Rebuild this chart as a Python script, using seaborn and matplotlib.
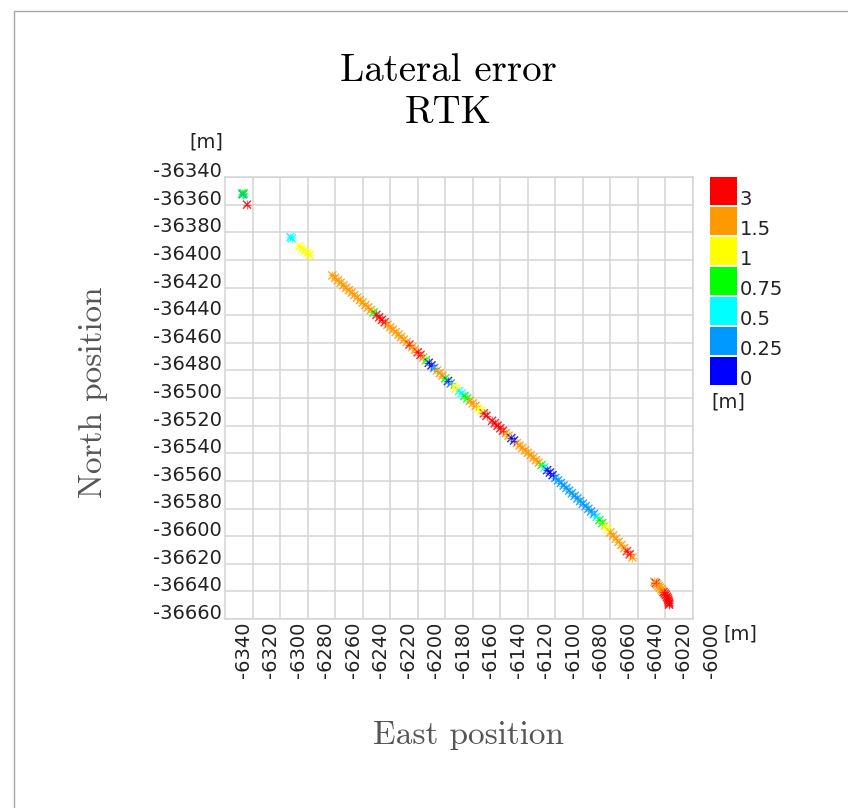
import numpy as np
import pandas as pd
import matplotlib
matplotlib.use("Agg")
import matplotlib.pyplot as plt
from matplotlib.lines import Line2D
import seaborn as sns

# Lateral error classes: lower bounds [m], labels and colours
class_edges = [0.25, 0.5, 0.75, 1.0, 1.5, 3.0]
class_labels = ["0", "0.25", "0.5", "0.75", "1", "1.5", "3"]
class_colors = ["#0000ff", "#0099ff", "#00ffff", "#00ff00", "#ffff00", "#ff9900", "#ff0000"]

east_ticks = list(range(-6340, -5999, 20))
north_ticks = list(range(-36660, -36339, 20))

# Isolated fixes at the start of the run
east_start = [-6347.6, -6347.0, -6346.4, -6344.0]
north_start = [-36352.0, -36352.6, -36351.8, -36360.0]
err_start = [0.85, 0.35, 0.80, 3.6]

east_gap = [-6312.5, -6311.5, -6306.0, -6304.0, -6302.0, -6300.0, -6298.5]
north_gap = [-36383.5, -36384.5, -36390.0, -36392.0, -36393.5, -36395.0, -36396.5]
err_gap = [0.60, 0.55, 1.20, 1.30, 1.10, 1.25, 1.20]

# Main straight section
east_main = [
    -6282, -6280, -6278, -6276, -6274, -6272, -6270, -6268, -6266, -6264,
    -6262, -6260, -6258, -6256, -6254, -6252, -6250, -6248, -6246, -6244,
    -6242, -6240, -6238, -6236, -6234, -6232, -6230, -6228, -6226, -6224,
    -6222, -6220, -6218, -6216, -6214, -6212, -6210, -6208, -6206, -6204,
    -6202, -6200, -6198, -6196, -6194, -6192, -6190, -6188, -6186, -6184,
    -6182, -6180, -6178, -6176, -6174, -6172, -6170, -6166, -6164, -6162,
    -6160, -6158, -6156, -6154, -6152, -6150, -6148, -6146, -6144, -6142,
    -6140, -6138, -6136, -6134, -6132, -6130, -6128, -6126, -6124, -6122,
    -6120, -6118, -6116, -6114, -6112, -6110, -6108, -6106, -6104, -6102,
    -6100, -6098, -6096, -6094, -6092, -6090, -6088, -6086, -6084, -6082,
    -6080, -6078, -6076, -6074, -6072, -6070, -6068, -6066, -6064,
]
north_main = [
    -36411.3, -36413.0, -36414.8, -36416.6, -36418.4, -36420.2, -36421.9, -36423.7, -36425.5, -36427.3,
    -36429.1, -36430.9, -36432.7, -36434.5, -36436.3, -36438.0, -36439.8, -36441.6, -36443.4, -36445.2,
    -36447.0, -36448.8, -36450.5, -36452.3, -36454.1, -36455.9, -36457.7, -36459.5, -36461.3, -36463.1,
    -36465.0, -36466.9, -36468.8, -36470.7, -36472.6, -36474.5, -36476.4, -36478.2, -36480.1, -36482.0,
    -36483.9, -36485.8, -36487.7, -36489.5, -36491.3, -36493.1, -36494.9, -36496.7, -36498.5, -36500.3,
    -36502.1, -36503.9, -36505.7, -36507.5, -36509.3, -36511.1, -36512.9, -36516.5, -36518.3, -36520.1,
    -36521.9, -36523.7, -36525.5, -36527.3, -36529.0, -36530.8, -36532.6, -36534.4, -36536.1, -36537.9,
    -36539.7, -36541.4, -36543.2, -36545.0, -36546.8, -36548.5, -36550.3, -36552.2, -36554.0, -36555.9,
    -36557.8, -36559.6, -36561.5, -36563.4, -36565.2, -36567.1, -36569.0, -36570.9, -36572.7, -36574.6,
    -36576.5, -36578.3, -36580.2, -36582.1, -36584.0, -36586.1, -36588.3, -36590.6, -36592.8, -36595.1,
    -36597.4, -36599.6, -36601.9, -36604.2, -36606.4, -36608.7, -36610.9, -36613.2, -36615.5,
]
err_main = [
    2.1, 2.0, 2.2, 1.9, 2.0, 2.1, 1.8, 2.0, 2.2, 1.9,
    2.0, 1.7, 2.1, 1.9, 2.0, 0.85, 3.4, 3.6, 3.5, 3.3,
    2.4, 2.0, 1.9, 2.1, 2.0, 1.8, 2.2, 2.5, 3.4, 2.1,
    1.9, 3.5, 3.2, 2.3, 0.80, 0.10, 0.15, 0.35, 2.0, 1.9,
    2.1, 0.85, 0.12, 0.40, 1.2, 1.3, 0.60, 0.65, 0.85, 0.90,
    1.9, 2.0, 2.2, 1.2, 1.3, 3.4, 3.6, 3.5, 3.8, 3.4,
    3.5, 3.3, 2.2, 2.0, 0.15, 0.10, 2.1, 1.9, 2.0, 2.2,
    1.8, 2.0, 2.1, 1.9, 2.0, 0.80, 0.60, 0.10, 0.08, 0.15,
    0.30, 0.35, 0.38, 0.40, 0.33, 0.36, 0.42, 0.37, 0.35, 0.40,
    0.38, 0.43, 0.45, 0.46, 0.48, 0.60, 0.85, 0.90, 1.1, 1.3,
    1.8, 2.0, 2.1, 1.9, 2.2, 2.4, 3.3, 3.4, 2.2,
]

# Final curve towards the end of the run
east_end = [-6048.0, -6047.0, -6046.0, -6045.0, -6044.0, -6043.0, -6042.2,
            -6041.4, -6040.6, -6039.8, -6039.0, -6038.4, -6038.0, -6037.7, -6037.5, -6037.4]
north_end = [-36633.0, -36634.0, -36635.0, -36636.2, -36637.3, -36638.5, -36639.5,
             -36640.5, -36641.6, -36642.7, -36643.9, -36645.0, -36646.2, -36647.4, -36648.6, -36649.6]
err_end = [2.6, 3.2, 2.2, 2.0, 2.4, 2.1, 2.8,
           3.4, 3.6, 3.8, 3.5, 3.7, 3.9, 3.6, 3.5, 3.8]

df = pd.DataFrame({
    "east": east_start + east_gap + east_main + east_end,
    "north": north_start + north_gap + north_main + north_end,
    "err": err_start + err_gap + err_main + err_end,
})
df["cls"] = [class_labels[i] for i in np.digitize(df["err"], class_edges)]

sns.set_style("white")
plt.rcParams["font.family"] = ["DejaVu Sans"]
serif = ["cmr10", "DejaVu Serif"]
tick_color = "#222222"
grid_color = "#d4d4d4"

W, H = 848, 808
fig = plt.figure(figsize=(W / 100, H / 100), dpi=100)
fig.patch.set_facecolor("white")

ax = fig.add_axes([225 / W, 1 - 619 / H, 468 / W, 442 / H])
palette = dict(zip(class_labels, class_colors))
# each fix drawn as a small cross plus a plus sign, giving a star-like mark
sns.scatterplot(data=df, x="east", y="north", hue="cls", palette=palette,
                marker="x", s=34, linewidth=1.0, alpha=0.85, legend=False, ax=ax, zorder=3)
sns.scatterplot(data=df, x="east", y="north", hue="cls", palette=palette,
                marker="+", s=40, linewidth=0.9, alpha=0.6, legend=False, ax=ax, zorder=3)

ax.set_xlim(-6360, -6020)
ax.set_ylim(-36660, -36340)
ax.set_xticks(east_ticks[:-1])
ax.set_yticks(north_ticks)
ax.set_xticklabels([str(v) for v in east_ticks[:-1]])
ax.set_yticklabels([str(v) for v in north_ticks])
ax.set_xlabel("")
ax.set_ylabel("")
ax.grid(True, color=grid_color, linewidth=1.1)
ax.set_axisbelow(True)
for sp in ax.spines.values():
    sp.set_color(grid_color)
    sp.set_linewidth(1.1)
ax.tick_params(length=0, labelsize=14, labelcolor=tick_color, pad=2)
for lbl in ax.get_xticklabels():
    lbl.set_rotation(90)
    lbl.set_ha("right")
    lbl.set_va("top")
for lbl in ax.get_yticklabels():
    lbl.set_va("baseline")

# last east label sits beyond the plotted range
ax.annotate(str(east_ticks[-1]), xy=(east_ticks[-1], 0),
            xycoords=("data", "axes fraction"), xytext=(0, -2),
            textcoords="offset points", rotation=90, ha="right", va="top",
            fontsize=14, color=tick_color, annotation_clip=False)

# units
fig.text(223 / W, 1 - 142 / H, "[m]", ha="right", va="center", fontsize=14, color=tick_color)
fig.text(723 / W, 1 - 634 / H, "[m]", ha="left", va="center", fontsize=14, color=tick_color)

# discrete colour scale
cax = fig.add_axes([710 / W, 1 - 385 / H, 27 / W, 208 / H])
cax.bar(x=[0] * len(class_colors), height=28 / 30, bottom=list(range(len(class_colors))),
        width=1, align="edge", color=class_colors, linewidth=0)
cax.set_xlim(0, 1)
cax.set_ylim(0, 6 + 28 / 30)
cax.axis("off")
for i, lab in enumerate(class_labels):
    cax.text(1.11, i, lab, ha="left", va="baseline", fontsize=14, color=tick_color)
fig.text(711 / W, 1 - 402 / H, "[m]", ha="left", va="center", fontsize=14, color=tick_color)

# titles and axis names
fig.text(448 / W, 1 - 71 / H, "Lateral error", ha="center", va="center",
         fontsize=28, family=serif, color="black")
fig.text(448 / W, 1 - 113 / H, "RTK", ha="center", va="center",
         fontsize=28, family=serif, color="black")
fig.text(93 / W, 1 - 392 / H, "North position", ha="center", va="center", rotation=90,
         fontsize=24, family=serif, color="#555555")
fig.text(468 / W, 1 - 735 / H, "East position", ha="center", va="center",
         fontsize=24, family=serif, color="#555555")

# panel frame
frame_c = "#a6a6a6"
fig.add_artist(Line2D([14 / W, 14 / W], [0, 1 - 11 / H], transform=fig.transFigure,
                      color=frame_c, linewidth=1))
fig.add_artist(Line2D([14 / W, 1], [1 - 11 / H, 1 - 11 / H], transform=fig.transFigure,
                      color=frame_c, linewidth=1))

fig.savefig("out.png", dpi=100)
